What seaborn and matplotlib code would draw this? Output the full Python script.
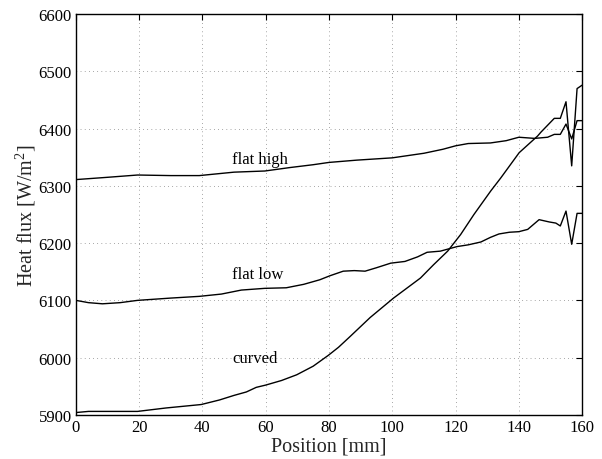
import numpy as np
import pandas as pd
import matplotlib
matplotlib.use("Agg")
import matplotlib.pyplot as plt
import seaborn as sns

# Heat flux profiles along the wall for three geometries
flat_high_x = [0, 10, 19.5, 30, 39, 50, 59.7, 67.6, 75, 80, 88.8, 100, 110, 116, 120,
               124, 131, 136, 140, 145, 149.1, 151.2, 153.1, 154.9, 156.7, 158.4, 160]
flat_high_y = [6311, 6315, 6319, 6318, 6318, 6324, 6326, 6332, 6337, 6341, 6345, 6349,
               6357, 6364, 6370, 6374, 6375, 6379, 6385, 6383, 6385, 6390, 6390, 6408,
               6382, 6414, 6414]

flat_low_x = [0, 4, 8.4, 14, 19.5, 30, 39, 46, 52.3, 59.7, 66.5, 72, 77.1, 80.3, 84.5,
              88, 91.4, 95, 99.5, 104, 108, 111, 115.2, 120.5, 124, 128, 131, 133.7, 137,
              140, 142.8, 146.4, 149.6, 151.7, 153.1, 154.9, 156.7, 158.4, 160]
flat_low_y = [6100, 6096, 6094, 6096, 6100, 6104, 6107, 6111, 6118, 6121, 6122, 6128,
              6136, 6143, 6151, 6152, 6151, 6157, 6165, 6168, 6176, 6184, 6186, 6194,
              6197, 6202, 6210, 6216, 6219, 6220, 6224, 6241, 6237, 6235, 6230, 6256,
              6198, 6252, 6252]

curved_x = [0, 4, 19.5, 28.5, 39.6, 45.4, 50, 53.9, 57, 60, 65, 69.8, 75, 79.8, 83, 86.7,
            93, 100.4, 108.9, 113, 117.5, 121.6, 125.8, 131.1, 134.3, 140.1, 145.9, 147,
            151.2, 153.1, 154.9, 156.7, 158.4, 160]
curved_y = [5904, 5906, 5906, 5912, 5918, 5926, 5934, 5940, 5948, 5952, 5960, 5970, 5985,
            6004, 6018, 6037, 6070, 6104, 6139, 6162, 6186, 6215, 6250, 6291, 6314, 6358,
            6387, 6394, 6418, 6418, 6447, 6335, 6470, 6476]

series_names = ["flat high", "flat low", "curved"]
label_pos = {"flat high": (49.5, 6347), "flat low": (49.5, 6146), "curved": (49.5, 5999)}

x_ticks = [0, 20, 40, 60, 80, 100, 120, 140, 160]
y_ticks = [5900, 6000, 6100, 6200, 6300, 6400, 6500, 6600]

df = pd.concat([
    pd.DataFrame({"Position": flat_high_x, "Flux": flat_high_y, "case": "flat high"}),
    pd.DataFrame({"Position": flat_low_x, "Flux": flat_low_y, "case": "flat low"}),
    pd.DataFrame({"Position": curved_x, "Flux": curved_y, "case": "curved"}),
], ignore_index=True)

sns.set_theme(style="white")
plt.rcParams["font.family"] = ["Liberation Serif", "DejaVu Serif"]
plt.rcParams["mathtext.fontset"] = "custom"
plt.rcParams["mathtext.rm"] = "Liberation Serif"
plt.rcParams["mathtext.it"] = "Liberation Serif:italic"

fig = plt.figure(figsize=(6.02, 4.60), dpi=100)
ax = fig.add_axes([0.126, 0.096, 0.841, 0.871])

sns.lineplot(data=df, x="Position", y="Flux", units="case", estimator=None,
             color="black", linewidth=1.0, sort=False, ax=ax)

for name in series_names:
    tx, ty = label_pos[name]
    ax.text(tx, ty, name, fontsize=12, ha="left", va="center", color="black")

ax.set_xlim(0, 160)
ax.set_ylim(5900, 6600)
ax.set_xticks(x_ticks)
ax.set_yticks(y_ticks)
ax.set_xticklabels([str(t) for t in x_ticks])
ax.set_yticklabels([str(t) for t in y_ticks])

ax.grid(True, color="#555555", linestyle=(0, (1, 5)), linewidth=0.5)
ax.tick_params(direction="in", length=4, width=0.8, colors="black", labelsize=12,
               top=True, right=True, pad=3)
for s in ax.spines.values():
    s.set_visible(True)
    s.set_color("black")
    s.set_linewidth(1.0)

ax.set_xlabel("Position [mm]", fontsize=14.5, labelpad=1)
ax.set_ylabel(r"Heat flux [W/m$^2$]", fontsize=14.5, labelpad=0)

fig.savefig("out.png", dpi=100)
